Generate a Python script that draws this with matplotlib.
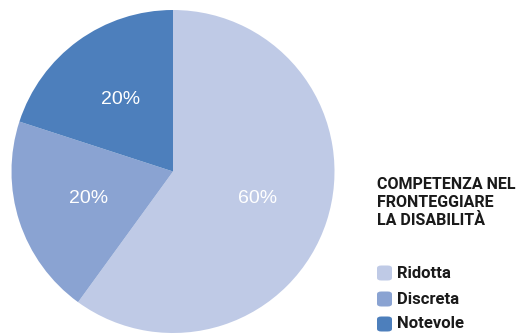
import matplotlib
matplotlib.use("Agg")
import matplotlib.pyplot as plt
from matplotlib.patches import FancyBboxPatch

categories = ["Ridotta", "Discreta", "Notevole"]
values = [60, 20, 20]
colors = ["#BFCAE6", "#8AA3D2", "#4D7FBC"]
title = "COMPETENZA NEL\nFRONTEGGIARE\nLA DISABILITÀ"

W, H = 532, 334
fig = plt.figure(figsize=(W / 100, H / 100), dpi=100)

# pie axes: centre (173, 171.5) px, radius 161.5 px
cx, cy, r = 173, 171.5, 161.5
ax = fig.add_axes([(cx - r) / W, (H - cy - r) / H, 2 * r / W, 2 * r / H])
wedges, texts, autotexts = ax.pie(
    values, colors=colors, startangle=90, counterclock=False,
    autopct="%d%%", pctdistance=0.55, radius=1,
    wedgeprops=dict(linewidth=0),
    textprops=dict(color="white", fontsize=14, family=["Liberation Sans", "DejaVu Sans"]),
)
ax.set_xlim(-1, 1)
ax.set_ylim(-1, 1)
ax.set_aspect("equal")

cond = ["Roboto", "DejaVu Sans"]
fig.text(377 / W, 1 - 177 / H, title, ha="left", va="top", fontsize=11.5,
         fontweight="bold", family=cond, color="#1a1a1a", linespacing=1.25)

# legend rows
row_y = [273, 299, 324]
for lab, col, y in zip(categories, colors, row_y):
    sq = 15
    fig.patches.append(FancyBboxPatch(
        (377 / W, 1 - (y + sq / 2) / H), sq / W, sq / H,
        boxstyle="round,pad=0,rounding_size=0.008",
        transform=fig.transFigure, facecolor=col, edgecolor="none"))
    fig.text(397 / W, 1 - y / H, lab, ha="left", va="center", fontsize=12,
             fontweight="bold", family=cond, color="#1a1a1a")

fig.savefig("out.png", dpi=100)
